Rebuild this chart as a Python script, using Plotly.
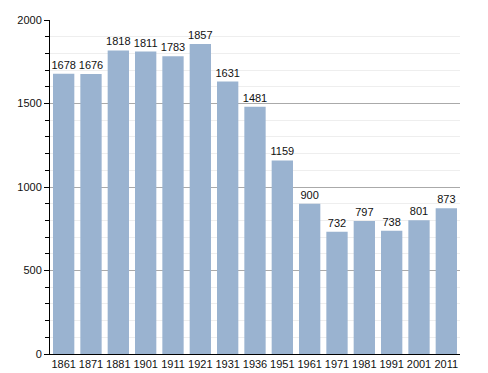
import plotly.graph_objects as go

years = ["1861", "1871", "1881", "1901", "1911", "1921", "1931", "1936", "1951",
         "1961", "1971", "1981", "1991", "2001", "2011"]
population = [1678, 1676, 1818, 1811, 1783, 1857, 1631, 1481, 1159, 900, 732, 797, 738, 801, 873]

fig = go.Figure(go.Bar(
    x=years, y=population,
    marker=dict(color="#9ab3d0", line=dict(width=0)),
    text=[str(v) for v in population], textposition="outside",
    textfont=dict(family="Liberation Sans, Arial", size=11, color="#111"),
    cliponaxis=False, constraintext="none",
))
fig.update_layout(
    width=480, height=365,
    margin=dict(l=42, r=28, t=12, b=19, autoexpand=False),
    plot_bgcolor="white", paper_bgcolor="white",
    bargap=0.22, showlegend=False,
    font=dict(family="Liberation Sans, Arial", size=11, color="#111"),
)
fig.update_xaxes(showline=True, linecolor="black", linewidth=1, ticks="", showgrid=False,
                 tickfont=dict(size=11), automargin=False)
fig.update_yaxes(range=[0, 2000], dtick=500, showline=True, linecolor="black", linewidth=1,
                 ticks="outside", ticklen=5, tickcolor="black", showgrid=True, gridcolor="#aaaaaa",
                 zeroline=False, tickfont=dict(size=11), automargin=False,
                 minor=dict(dtick=100, showgrid=True, gridcolor="#eeeeee", ticks="outside",
                            ticklen=4, tickcolor="black"))
fig.write_html("out.html")
